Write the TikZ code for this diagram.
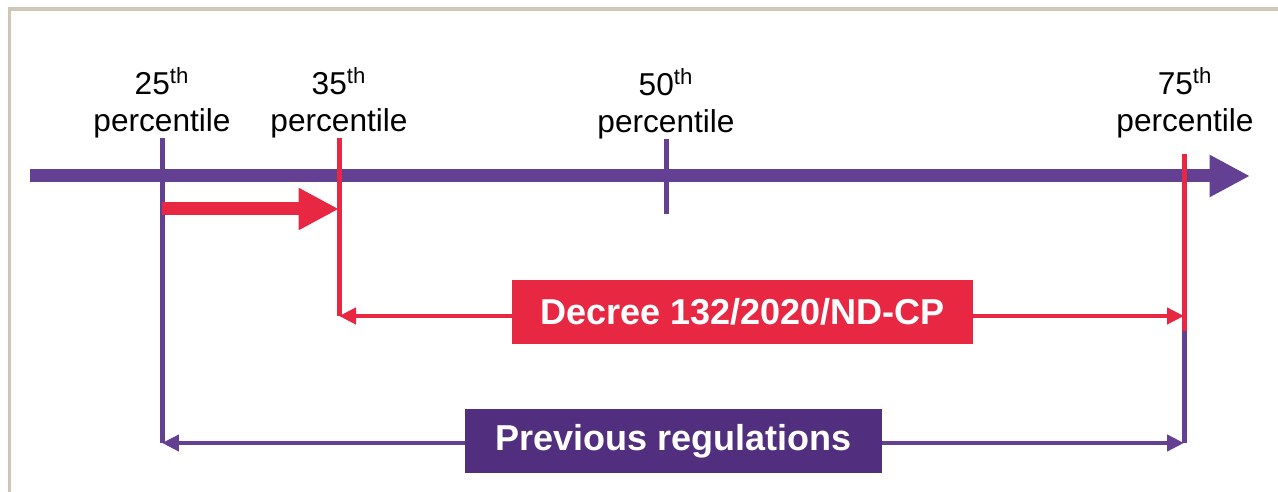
\documentclass[tikz,border=0pt]{standalone}
\usepackage{fontspec}
\setmainfont{Liberation Sans}
\usepackage{tikz}
\usetikzlibrary{positioning,arrows,arrows.meta}

\definecolor{axispurple}{RGB}{99,64,145}
\definecolor{boxpurple}{RGB}{81,46,126}
\definecolor{decreered}{RGB}{232,40,66}
\definecolor{framebeige}{RGB}{207,198,184}

\begin{document}
\begin{tikzpicture}[x=0.02cm,y=-0.02cm,
pct/.style={align=center,inner sep=0pt,anchor=south,font=\fontsize{18}{21}\selectfont},
tickline/.style={line width=0.1cm},
spanline/.style={line width=0.09cm,{Triangle[length=0.34cm,width=0.32cm]}-{Triangle[length=0.34cm,width=0.32cm]}},
bigarrow/.style={line width=0.26cm,-{Triangle[length=0.81cm,width=0.79cm]}},
lawbox/.style={text=white,font=\fontsize{20.5}{24}\selectfont\bfseries,minimum height=1.28cm,inner sep=0pt}]
\useasboundingbox (0,0) rectangle (1278,492);
% frame
\draw[framebeige,line width=0.08cm] (9.5,492) -- (9.5,9.5) -- (1278,9.5);

% tick ends
\coordinate (t25) at (162,138);
\coordinate (b25) at (162,443);
\coordinate (t35) at (339,138);
\coordinate (b35) at (339,316);
\coordinate (t50) at (666,139);
\coordinate (b50) at (666,214);
\coordinate (t75) at (1184,154);
\coordinate (d75) at (1184,316);
\coordinate (m75) at (1184,331);
\coordinate (b75) at (1184,443);

% axis
\coordinate (ax0) at (30,176);
\coordinate (ax1) at (1250,176);
\draw[axispurple,bigarrow] (ax0) -- (ax1);

% percentile labels
\node[pct] (lab25) at (t25) {25\textsuperscript{th}\\percentile};
\node[pct] (lab35) at (t35) {35\textsuperscript{th}\\percentile};
\node[pct] (lab50) at (t50) {50\textsuperscript{th}\\percentile};
\node[pct] (lab75) at (1185,138) {75\textsuperscript{th}\\percentile};

% ticks
\draw[tickline,axispurple] (t25) -- (b25);
\draw[tickline,decreered] (t35) -- (b35);
\draw[tickline,axispurple] (t50) -- (b50);
\draw[tickline,decreered] (t75) -- (m75);
\draw[tickline,axispurple] (m75) -- (b75);

% shift 25th -> 35th
\coordinate (r0) at (162,209);
\coordinate (r1) at (339,209);
\draw[decreered,bigarrow] (r0) -- (r1);

% ranges
\draw[spanline,decreered] (b35) -- (d75);
\draw[spanline,axispurple] (b25) -- (b75);
\node[lawbox,fill=decreered,minimum width=9.22cm] (decree) at (742.5,312) {Decree 132/2020/ND-CP};
\node[lawbox,fill=boxpurple,minimum width=8.34cm] (prev) at (673.5,441) {Previous regulations};
\end{tikzpicture}
\end{document}
